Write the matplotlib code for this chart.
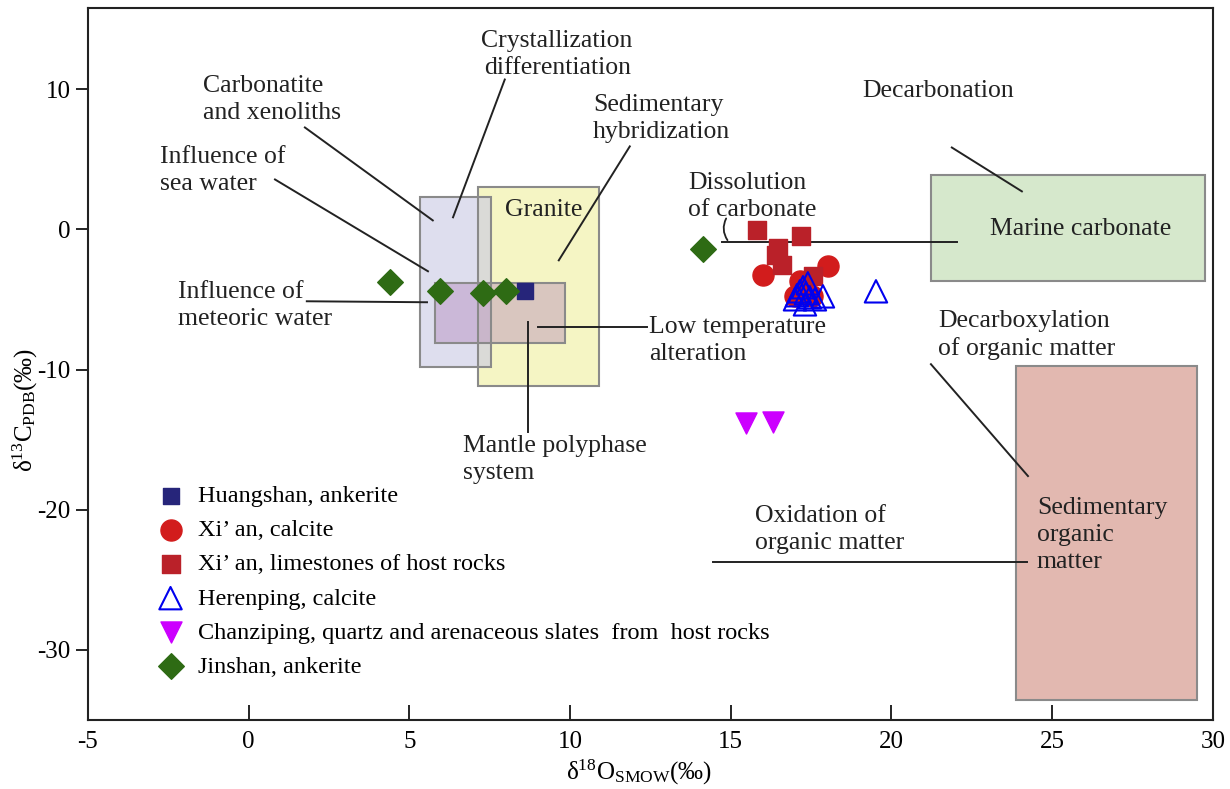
import matplotlib
matplotlib.use("Agg")
import matplotlib.pyplot as plt
from matplotlib.patches import Rectangle

plt.rcParams['font.family'] = ['Liberation Serif', 'DejaVu Serif']
plt.rcParams['mathtext.fontset'] = 'custom'
plt.rcParams['mathtext.rm'] = 'Liberation Serif'
plt.rcParams['mathtext.it'] = 'Liberation Serif:italic'
plt.rcParams['axes.unicode_minus'] = False

# isotope data, d18O (SMOW) and d13C (PDB)
huangshan_o = [8.6]
huangshan_c = [-4.42]

xian_cal_o = [16.0, 18.02, 17.15, 17.0, 17.53]
xian_cal_c = [-3.28, -2.64, -3.7, -4.78, -4.78]

xian_lime_o = [15.82, 17.18, 16.47, 16.41, 16.59, 17.56]
xian_lime_c = [-0.07, -0.5, -1.35, -1.85, -2.57, -3.35]

herenping_o = [17.25, 17.06, 17.15, 17.34, 17.46, 17.62, 17.87, 17.31, 17.0, 17.4, 19.52]
herenping_c = [-4.13, -4.7, -4.42, -4.56, -4.85, -4.99, -4.78, -5.35, -4.99, -3.85, -4.42]

chanziping_o = [15.47, 16.31]
chanziping_c = [-13.83, -13.76]

jinshan_o = [4.4, 5.95, 7.29, 8.0, 14.13]
jinshan_c = [-3.78, -4.42, -4.56, -4.42, -1.43]

# source fields: (x0, x1, y0, y1, colour, alpha)
fields = [
    (7.15, 10.9, -11.2, 3.0, '#f2f2b0', 0.75),   # granite
    (5.33, 7.55, -9.85, 2.3, '#c8c8e4', 0.6),   # carbonatite and xenoliths
    (5.8, 9.83, -8.1, -3.85, '#b080b8', 0.4),   # mantle polyphase
    (21.22, 29.75, -3.65, 3.85, '#d6e8cc', 1.0),  # marine carbonate
    (23.88, 29.5, -33.6, -9.75, '#e2b8b0', 1.0),  # sedimentary organic matter
]

# leader lines
leaders = [
    ((1.75, 7.27), (5.73, 0.64)),
    ((7.97, 10.69), (6.36, 0.86)),
    ((0.82, 3.56), (5.58, -2.99)),
    ((1.81, -5.13), (5.55, -5.2)),
    ((11.86, 5.92), (9.65, -2.21)),
    ((9.0, -6.98), (12.39, -6.98)),
    ((8.69, -6.63), (8.69, -14.47)),
    ((14.73, -0.93), (22.04, -0.93)),
    ((21.88, 5.84), (24.06, 2.71)),
    ((21.23, -9.62), (24.25, -17.6)),
    ((14.45, -23.73), (24.22, -23.73)),
]

labels = [
    ('Crystallization\ndifferentiation', 9.6, 12.5, 'center'),
    ('Carbonatite\nand xenoliths', -1.42, 9.27, 'left'),
    ('Influence of\nsea water', -2.76, 4.2, 'left'),
    ('Sedimentary\nhybridization', 10.71, 7.91, 'left'),
    ('Granite', 7.97, 1.35, 'left'),
    ('Dissolution\nof carbonate', 13.67, 2.35, 'left'),
    ('Decarbonation', 19.08, 9.84, 'left'),
    ('Marine carbonate', 23.06, 0.0, 'left'),
    ('Influence of\nmeteoric water', -2.2, -5.42, 'left'),
    ('Low temperature\nalteration', 12.45, -7.9, 'left'),
    ('Decarboxylation\nof organic matter', 21.45, -7.55, 'left'),
    ('Mantle polyphase\nsystem', 6.67, -16.4, 'left'),
    ('Oxidation of\norganic matter', 15.75, -21.4, 'left'),
    ('Sedimentary\norganic\nmatter', 24.53, -21.8, 'left'),
]

fig = plt.figure(figsize=(12.3, 7.89), dpi=100)
ax = fig.add_axes([0.0715, 0.0875, 0.9145, 0.9025])

for x0, x1, y0, y1, fc, a in fields:
    ax.add_patch(Rectangle((x0, y0), x1 - x0, y1 - y0, facecolor=fc, alpha=a,
                           edgecolor='none', zorder=1))
    ax.add_patch(Rectangle((x0, y0), x1 - x0, y1 - y0, facecolor='none',
                           edgecolor='#8a8a8a', lw=1.5, zorder=1.5))

for (xa, ya), (xb, yb) in leaders:
    ax.plot([xa, xb], [ya, yb], color='#222222', lw=1.4, zorder=2)

# little bracket from the dissolution line up to its label
ax.annotate('', xy=(14.95, -0.93), xytext=(14.9, 0.95),
            arrowprops=dict(arrowstyle='-', color='#222222', lw=1.3,
                            connectionstyle='arc3,rad=0.35'), zorder=2)

for txt, x, y, ha in labels:
    ax.text(x, y, txt, ha=ha, va='center', fontsize=18.5, color='#222222',
            linespacing=1.3, zorder=4)

ax.scatter(huangshan_o, huangshan_c, marker='s', s=120, color='#26257a',
           zorder=5, label='Huangshan, ankerite')
ax.scatter(xian_cal_o, xian_cal_c, marker='o', s=230, color='#d21c1c',
           zorder=5, label='Xi\u2019 an, calcite')
ax.scatter(xian_lime_o, xian_lime_c, marker='s', s=150, color='#ba2129',
           zorder=5, label='Xi\u2019 an, limestones of host rocks')
ax.scatter(herenping_o, herenping_c, marker='^', s=260, facecolor='none',
           edgecolor='#0000ee', linewidths=1.5, zorder=6, label='Herenping, calcite')
ax.scatter(chanziping_o, chanziping_c, marker='v', s=230, color='#cc00ff',
           zorder=5, label='Chanziping, quartz and arenaceous slates  from  host rocks')
ax.scatter(jinshan_o, jinshan_c, marker='D', s=170, color='#2e6b14',
           zorder=5, label='Jinshan, ankerite')

ax.legend(loc='upper left', bbox_to_anchor=(0.041, 0.347), frameon=False,
          fontsize=17.5, labelspacing=0.5, handletextpad=0.15, borderpad=0,
          scatterpoints=1)

ax.set_xlim(-5, 30)
ax.set_ylim(-35, 15.8)
ax.set_xticks(range(-5, 31, 5))
ax.set_yticks([-30, -20, -10, 0, 10])
ax.tick_params(axis='x', direction='in', length=11, width=1.2, labelsize=18, pad=8)
ax.tick_params(axis='y', direction='out', length=9, width=1.2, labelsize=18)
for sp in ax.spines.values():
    sp.set_linewidth(1.5)
    sp.set_color('#222222')

ax.set_xlabel('δ$^{18}$O$_{\\rm SMOW}$(‰)', fontsize=18)
ax.set_ylabel('δ$^{13}$C$_{\\rm PDB}$(‰)', fontsize=18)
ax.xaxis.set_label_coords(0.49, -0.053)
ax.yaxis.set_label_coords(-0.043, 0.435)

fig.savefig('out.png', dpi=100)
